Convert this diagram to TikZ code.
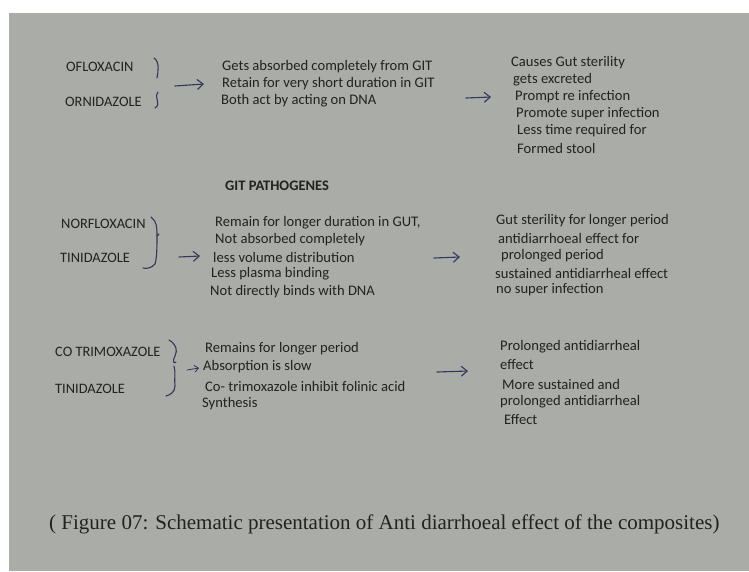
\documentclass[tikz,border=0pt]{standalone}
\usepackage{fontspec}
\setmainfont{Carlito}
\newfontfamily\capfont{Liberation Serif}
\usetikzlibrary{arrows.meta}
\definecolor{paper}{RGB}{170,172,167}
\definecolor{ink}{RGB}{34,34,32}
\definecolor{pen}{RGB}{50,54,88}
\tikzset{
  txt/.style={anchor=west, inner sep=0pt, text=ink, font=\fontsize{14.6}{16}\selectfont},
  drug/.style={txt, font=\fontsize{14.4}{16}\selectfont},
  pentip/.style={draw=pen, line width=1.1pt, line cap=round, -{Straight Barb[length=6pt,width=10pt]}},
  brace/.style={draw=pen, line width=1.1pt, line cap=round}
}
\begin{document}
\begin{tikzpicture}[x=1pt,y=-1pt]
\useasboundingbox (0,0) rectangle (749,571);
\fill[white] (0,0) rectangle (749,571);
\fill[paper] (9,13) rectangle (749,571);

% ---- group 1
\node[drug] (d1a) at (66,67) {OFLOXACIN};
\node[drug] (d1b) at (65,102) {ORNIDAZOLE};
\draw[brace] (154,58) .. controls (160,62) and (158,72) .. (157,78);
\draw[brace] (158,92) .. controls (153,96) and (162,104) .. (155,108);
\coordinate (a1s) at (175,86);
\coordinate (a1e) at (204,84);
\draw[pentip] (a1s) -- (a1e);
\node[txt] (p1a) at (222,67) {Gets absorbed completely from GIT};
\node[txt] (p1b) at (222,84) {Retain for very short duration in GIT};
\node[txt] (p1c) at (221,101) {Both act by acting on DNA};
\coordinate (b1s) at (466,98);
\coordinate (b1e) at (491,97);
\draw[pentip] (b1s) -- (b1e);
\node[txt] (e1a) at (511,63) {Causes Gut sterility};
\node[txt] (e1b) at (513,80) {gets excreted};
\node[txt] (e1c) at (515,97) {Prompt re infection};
\node[txt] (e1d) at (516,114) {Promote super infection};
\node[txt] (e1e) at (517,131) {Less time required for};
\node[txt] (e1f) at (517,148) {Formed stool};

% ---- heading
\node[txt, font=\bfseries\fontsize{14.5}{16}\selectfont] (head) at (225,186) {GIT PATHOGENES};

% ---- group 2
\node[drug] (d2a) at (61,224) {NORFLOXACIN};
\node[drug] (d2b) at (60,258) {TINIDAZOLE};
\draw[brace] (151,217) .. controls (157,221) and (157,228) .. (157,236)
  .. controls (157,245) and (157,258) .. (155,264) .. controls (152,268) and (146,269) .. (143,268);
\draw[brace] (157,236) -- (159,234);
\coordinate (a2s) at (179,257);
\coordinate (a2e) at (200,256);
\draw[pentip] (a2s) -- (a2e);
\node[txt] (p2a) at (215,223) {Remain for longer duration in GUT,};
\node[txt] (p2b) at (215,240) {Not absorbed completely};
\node[txt] (p2c) at (213,257) {less volume distribution};
\node[txt] (p2d) at (211,274) {Less plasma binding};
\node[txt] (p2e) at (210,292) {Not directly binds with DNA};
\coordinate (b2s) at (434,258);
\coordinate (b2e) at (460,257);
\draw[pentip] (b2s) -- (b2e);
\node[txt] (e2a) at (496,221) {Gut sterility for longer period};
\node[txt] (e2b) at (498,238) {antidiarrhoeal effect for};
\node[txt] (e2c) at (501,256) {prolonged period};
\node[txt] (e2d) at (495,273) {sustained antidiarrheal effect};
\node[txt] (e2e) at (496,290) {no super infection};

% ---- group 3
\node[drug] (d3a) at (55,352) {CO TRIMOXAZOLE};
\node[drug] (d3b) at (55,389) {TINIDAZOLE};
\draw[brace] (169,340) .. controls (176,344) and (178,350) .. (175,356)
  .. controls (172,362) and (174,364) .. (176,362);
\draw[brace] (174,366) .. controls (176,372) and (174,380) .. (175,386) .. controls (175,392) and (170,395) .. (166,396);
\coordinate (a3s) at (187,370);
\coordinate (a3e) at (199,368);
\draw[pentip, line width=0.8pt, -{Straight Barb[length=4pt,width=7pt]}] (a3s) -- (a3e);
\node[txt] (p3a) at (205,349) {Remains for longer period};
\node[txt] (p3b) at (203,367) {Absorption is slow};
\node[txt] (p3c) at (205,386) {Co- trimoxazole inhibit folinic acid};
\node[txt] (p3d) at (202,404) {Synthesis};
\coordinate (b3s) at (437,372);
\coordinate (b3e) at (468,371);
\draw[pentip] (b3s) -- (b3e);
\node[txt] (e3a) at (500,347) {Prolonged antidiarrheal};
\node[txt] (e3b) at (500,365) {effect};
\node[txt] (e3c) at (502,384) {More sustained and};
\node[txt] (e3d) at (500,402) {prolonged antidiarrheal};
\node[txt] (e3e) at (504,420) {Effect};

% ---- caption
\node[anchor=west, inner sep=0pt, text=ink, font=\capfont\fontsize{21}{24}\selectfont] (cap) at (49,524)
  {( Figure 07: Schematic presentation of Anti diarrhoeal effect of the composites)};
\end{tikzpicture}
\end{document}
